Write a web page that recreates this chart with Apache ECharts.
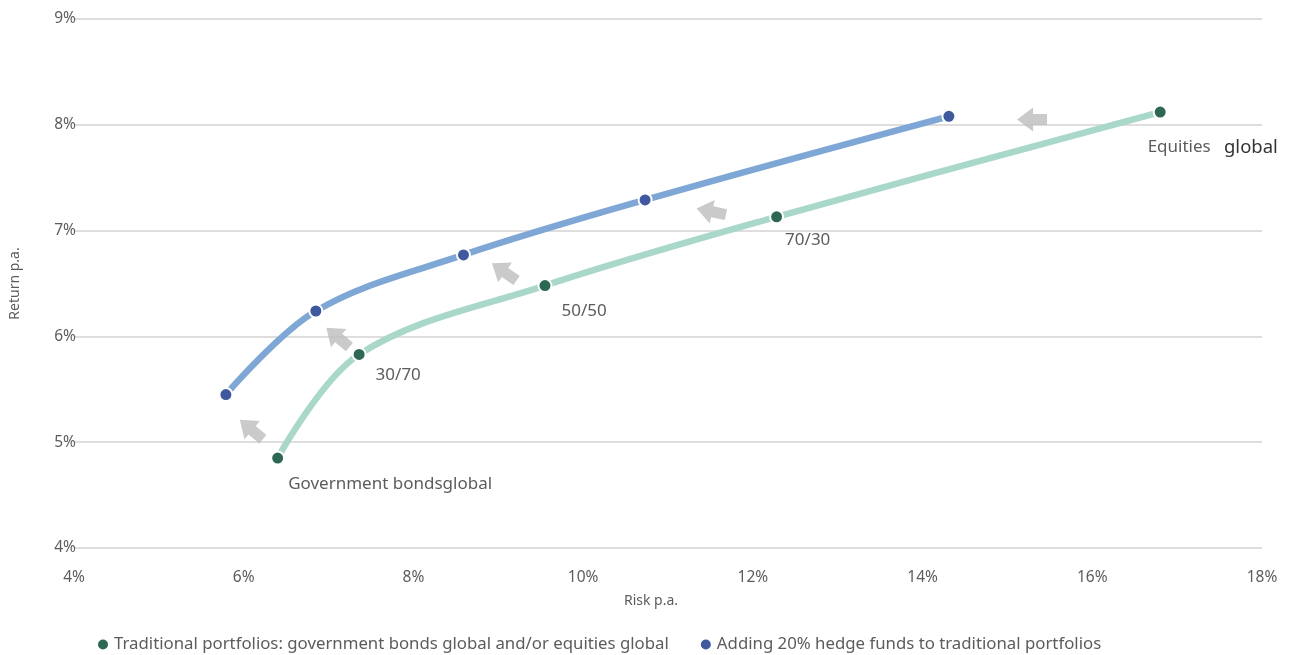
<!DOCTYPE html>
<html>
<head>
<meta charset="utf-8">
<script src="https://cdn.jsdelivr.net/npm/echarts@6/dist/echarts.min.js"></script>
<style>
  html, body { margin: 0; padding: 0; background: #fff; }
  #chart { width: 1293px; height: 655px; }
</style>
</head>
<body>
<div id="chart"></div>
<script>
// risk / return pairs (in %)
const traditionalRisk = [6.40, 7.36, 9.55, 12.28, 16.80];
const traditionalReturn = [4.85, 5.83, 6.48, 7.13, 8.12];
const hedgeRisk = [5.79, 6.85, 8.59, 10.73, 14.31];
const hedgeReturn = [5.45, 6.24, 6.77, 7.29, 8.08];
const pointLabels = ['Government bondsglobal', '30/70', '50/50', '70/30', '{a|Equities}   {b|global}'];
// arrows between the two curves
const arrowRisk = [6.09, 7.11, 9.07, 11.51, 15.29];
const arrowReturn = [5.12, 5.99, 6.61, 7.18, 8.05];
const arrowAngle = [-40, -40, -35, -12, 0];
const seriesNames = [
  'Traditional portfolios: government bonds global and/or equities global',
  'Adding 20% hedge funds to traditional portfolios'
];

const font = '"Noto Sans", Lato, sans-serif';
const textGray = '#5c5c5c';
// label offsets (px) relative to each point
const labelOffsets = [[12, 28], [18, 22], [18, 27], [10, 25], [-11, 37]];

const chart = echarts.init(document.getElementById('chart'));

const tradData = traditionalRisk.map((x, i) => ({
  value: [x, traditionalReturn[i]],
  label: {
    show: true,
    formatter: pointLabels[i],
    position: [labelOffsets[i][0] + 6, labelOffsets[i][1] + 6],
    align: 'left',
    verticalAlign: 'middle'
  }
}));

chart.setOption({
  animation: false,
  textStyle: { fontFamily: font },
  grid: { left: 72, right: 31, top: 19, bottom: 107 },
  legend: {
    top: 631,
    left: 91,
    icon: 'circle',
    itemWidth: 12,
    itemHeight: 12,
    itemGap: 30,
    data: seriesNames,
    textStyle: { color: textGray, fontSize: 16.8, fontFamily: font }
  },
  xAxis: {
    type: 'value',
    min: 4,
    max: 18,
    interval: 2,
    name: 'Risk p.a.',
    nameLocation: 'middle',
    nameGap: 46,
    nameTextStyle: { color: textGray, fontSize: 14, padding: [0, 34, 0, 0] },
    axisLine: { show: false },
    axisTick: { show: false },
    splitLine: { show: false },
    axisLabel: { color: textGray, fontSize: 15.5, margin: 22, formatter: '{value}%' }
  },
  yAxis: {
    type: 'value',
    min: 4,
    max: 9,
    interval: 1,
    offset: -12,
    name: 'Return p.a.',
    nameLocation: 'middle',
    nameGap: 64,
    nameTextStyle: { color: textGray, fontSize: 14 },
    axisLine: { show: false },
    axisTick: { show: false },
    splitLine: { lineStyle: { color: '#d3d3d3', width: 1.5 } },
    axisLabel: { color: textGray, fontSize: 15.5, margin: 10, formatter: '{value}%' }
  },
  series: [
    {
      name: seriesNames[0],
      type: 'line',
      smooth: 0.35,
      data: tradData,
      symbol: 'circle',
      symbolSize: 13,
      lineStyle: { color: '#a9d8cb', width: 6.5 },
      itemStyle: { color: '#2d6852', borderColor: '#fff', borderWidth: 2 },
      label: {
        color: textGray,
        fontSize: 17,
        fontFamily: font,
        rich: {
          a: { color: textGray, fontSize: 17, fontFamily: font },
          b: { color: '#333', fontSize: 18.5, fontFamily: font }
        }
      },
      z: 3
    },
    {
      name: seriesNames[1],
      type: 'line',
      smooth: 0.35,
      data: hedgeRisk.map((x, i) => [x, hedgeReturn[i]]),
      symbol: 'circle',
      symbolSize: 13,
      lineStyle: { color: '#7fa7d6', width: 6.5 },
      itemStyle: { color: '#3f589e', borderColor: '#fff', borderWidth: 2 },
      z: 3
    },
    {
      name: 'arrows',
      type: 'scatter',
      silent: true,
      symbol: 'path://M0,13 L16,0 L16,7 L30,7 L30,19 L16,19 L16,26 Z',
      symbolSize: [30, 24],
      itemStyle: { color: '#bdbdbd' },
      data: arrowRisk.map((x, i) => ({ value: [x, arrowReturn[i]], symbolRotate: arrowAngle[i] })),
      z: 2
    }
  ]
});
</script>
</body>
</html>
